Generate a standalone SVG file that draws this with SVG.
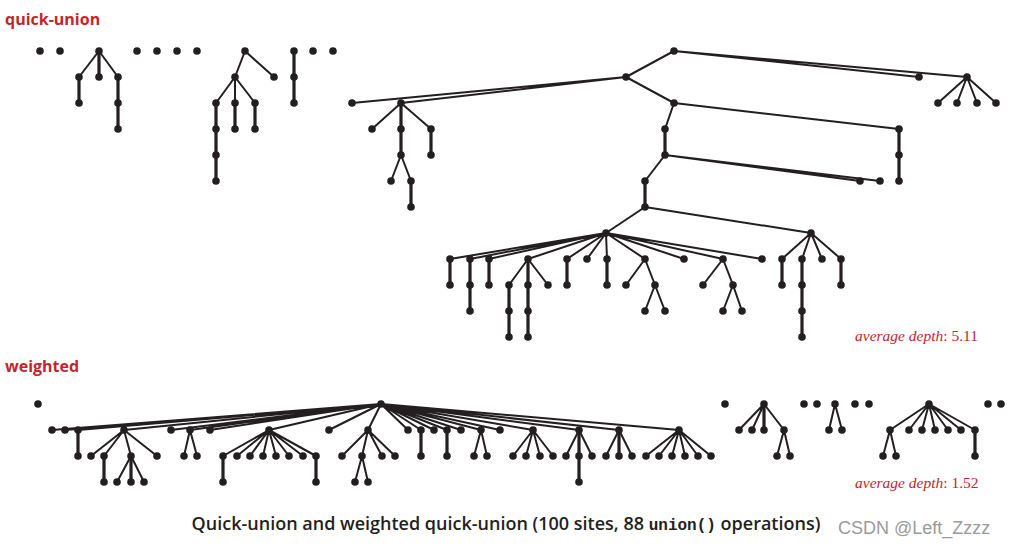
<svg xmlns="http://www.w3.org/2000/svg" width="1014" height="552" viewBox="0 0 1014 552">
<style>
.e{fill:none;stroke:#231f20;stroke-width:2;stroke-linecap:round}
.v{fill:none;stroke:#231f20;stroke-width:3.2}
circle{fill:#231f20;r:3.8}
.h{font-family:"Open Sans","Liberation Sans",sans-serif;font-weight:bold;font-size:16px;fill:#c0272d}
.a{font-family:"Liberation Serif",serif;font-size:15.5px;fill:#c0272d}
.c{font-family:"Open Sans","Liberation Sans",sans-serif;font-weight:600;font-size:18px;fill:#231f20}
</style>
<rect width="1014" height="552" fill="#fff"/>
<text class="h" x="5" y="25">quick-union</text>
<text class="h" x="5" y="372">weighted</text>
<text class="a" x="855" y="341"><tspan font-style="italic">average depth</tspan>: 5.11</text>
<text class="a" x="855" y="488"><tspan font-style="italic">average depth</tspan>: 1.52</text>
<text class="c" x="506" y="530" text-anchor="middle">Quick-union and weighted quick-union (100 sites, 88 <tspan font-family="Liberation Mono,monospace" font-size="16">union()</tspan> operations)</text>
<text x="838" y="534" font-family="Liberation Sans,sans-serif" font-size="18" fill="#9a9a9a">CSDN @Left_Zzzz</text>
<g id="connectors">
<path class="e" d="M99 51L79 77M99 51L99 77M99 51L118 77M79 77L79 103M118 77L118 129
M245 51L235 77M245 51L274 77M235 77L216 103M235 77L235 103M235 77L255 103M216 103L216 181M235 103L235 129M255 103L255 129
M294 51L294 103
M626 77L352 103M626 77L401 103M626 77L674 51M626 77L674 103
M401 103L372 129M401 103L401 155M401 103L431 129M401 155L391 181M401 155L411 181M411 181L411 207M431 129L431 155
M674 51L919 77M674 51L967 77M967 77L938 103M967 77L957 103M967 77L977 103M967 77L996 103
M674 103L665 129M674 103L899 129M899 129L899 181
M665 129L665 155M665 155L645 181M665 155L860 181M665 155L880 181M645 181L645 207M645 207L606 233M645 207L811 233
M606 233L450 259M606 233L470 259M606 233L489 259M606 233L528 259M606 233L567 259M606 233L587 259M606 233L607 259M606 233L645 259M606 233L684 259M606 233L723 259M606 233L762 259
M450 259L450 285M470 259L470 311M489 259L489 285M528 259L509 285M528 259L528 285M528 259L548 285M509 285L509 337M528 285L528 337M567 259L567 285M607 259L607 285
M645 259L626 285M645 259L655 285M655 285L645 311M655 285L665 311M723 259L703 285M723 259L733 285M733 285L723 311M733 285L742 311
M811 233L782 259M811 233L802 259M811 233L822 259M811 233L841 259M782 259L782 285M802 259L802 337M841 259L841 285
M381 404L52 430M381 404L65 430M381 404L78 430M381 404L124 430M381 404L171 430M381 404L190 430M381 404L210 430M381 404L269 430M381 404L329 430M381 404L368 430M381 404L408 430M381 404L421 430M381 404L434 430M381 404L447 430M381 404L461 430M381 404L481 430M381 404L500 430M381 404L533 430M381 404L579 430M381 404L619 430M381 404L679 430
M124 430L91 456M124 430L104 456M124 430L131 456M124 430L157 456M131 456L117 482M131 456L144 482
M190 430L184 456M190 430L197 456
M269 430L223 456M269 430L237 456M269 430L250 456M269 430L263 456M269 430L276 456M269 430L289 456M269 430L303 456M269 430L316 456
M368 430L342 456M368 430L362 456M368 430L382 456M368 430L395 456M362 456L355 482M362 456L368 482
M481 430L474 456M481 430L487 456
M533 430L513 456M533 430L526 456M533 430L540 456M533 430L553 456
M579 430L566 456M579 430L592 456M619 430L606 456M619 430L632 456
M679 430L646 456M679 430L659 456M679 430L672 456M679 430L685 456M679 430L698 456M679 430L711 456
M764 404L739 430M764 404L752 430M764 404L784 430M784 430L777 456M784 430L790 456
M835 404L829 430M835 404L842 430
M929 404L890 430M929 404L909 430M929 404L922 430M929 404L935 430M929 404L948 430M929 404L961 430M929 404L975 430M890 430L883 456M890 430L896 456"/>
<path class="v" d="M99 51V77M79 77V103M118 77V129M235 103V129M255 103V129M216 103V181M294 51V103M401 103V155M411 181V207M431 129V155M899 129V181M665 129V155M645 181V207M450 259V285M470 259V311M489 259V285M528 259V337M509 285V337M567 259V285M607 259V285M782 259V285M802 259V337M841 259V285M78 430V456M104 456V482M131 456V482M223 456V482M316 456V482M421 430V456M447 430V456M579 430V482M619 430V456M764 404V430M975 430V456"/>
</g>
<g id="nodes">
<circle cx="40" cy="51"/><circle cx="60" cy="51"/><circle cx="137" cy="51"/><circle cx="157" cy="51"/><circle cx="177" cy="51"/><circle cx="197" cy="51"/><circle cx="313" cy="51"/><circle cx="333" cy="51"/>
<circle cx="99" cy="51"/><circle cx="79" cy="77"/><circle cx="99" cy="77"/><circle cx="118" cy="77"/><circle cx="79" cy="103"/><circle cx="118" cy="103"/><circle cx="118" cy="129"/>
<circle cx="245" cy="51"/><circle cx="235" cy="77"/><circle cx="274" cy="77"/><circle cx="216" cy="103"/><circle cx="235" cy="103"/><circle cx="255" cy="103"/><circle cx="216" cy="129"/><circle cx="216" cy="155"/><circle cx="216" cy="181"/><circle cx="235" cy="129"/><circle cx="255" cy="129"/>
<circle cx="294" cy="51"/><circle cx="294" cy="77"/><circle cx="294" cy="103"/>
<circle cx="626" cy="77"/><circle cx="352" cy="103"/><circle cx="401" cy="103"/><circle cx="674" cy="51"/><circle cx="674" cy="103"/>
<circle cx="372" cy="129"/><circle cx="401" cy="129"/><circle cx="431" cy="129"/><circle cx="401" cy="155"/><circle cx="431" cy="155"/><circle cx="391" cy="181"/><circle cx="411" cy="181"/><circle cx="411" cy="207"/>
<circle cx="919" cy="77"/><circle cx="967" cy="77"/><circle cx="938" cy="103"/><circle cx="957" cy="103"/><circle cx="977" cy="103"/><circle cx="996" cy="103"/>
<circle cx="665" cy="129"/><circle cx="899" cy="129"/><circle cx="899" cy="155"/><circle cx="899" cy="181"/><circle cx="665" cy="155"/><circle cx="645" cy="181"/><circle cx="860" cy="181"/><circle cx="880" cy="181"/><circle cx="645" cy="207"/><circle cx="606" cy="233"/><circle cx="811" cy="233"/>
<circle cx="450" cy="259"/><circle cx="470" cy="259"/><circle cx="489" cy="259"/><circle cx="528" cy="259"/><circle cx="567" cy="259"/><circle cx="587" cy="259"/><circle cx="607" cy="259"/><circle cx="645" cy="259"/><circle cx="684" cy="259"/><circle cx="723" cy="259"/><circle cx="762" cy="259"/>
<circle cx="450" cy="285"/><circle cx="470" cy="285"/><circle cx="470" cy="311"/><circle cx="489" cy="285"/><circle cx="509" cy="285"/><circle cx="528" cy="285"/><circle cx="548" cy="285"/><circle cx="509" cy="311"/><circle cx="509" cy="337"/><circle cx="528" cy="311"/><circle cx="528" cy="337"/><circle cx="567" cy="285"/><circle cx="607" cy="285"/>
<circle cx="626" cy="285"/><circle cx="655" cy="285"/><circle cx="645" cy="311"/><circle cx="665" cy="311"/><circle cx="703" cy="285"/><circle cx="733" cy="285"/><circle cx="723" cy="311"/><circle cx="742" cy="311"/>
<circle cx="782" cy="259"/><circle cx="802" cy="259"/><circle cx="822" cy="259"/><circle cx="841" cy="259"/><circle cx="782" cy="285"/><circle cx="802" cy="285"/><circle cx="802" cy="311"/><circle cx="802" cy="337"/><circle cx="841" cy="285"/>
<circle cx="38" cy="404"/><circle cx="381" cy="404"/>
<circle cx="52" cy="430"/><circle cx="65" cy="430"/><circle cx="78" cy="430"/><circle cx="124" cy="430"/><circle cx="171" cy="430"/><circle cx="190" cy="430"/><circle cx="210" cy="430"/><circle cx="269" cy="430"/><circle cx="329" cy="430"/><circle cx="368" cy="430"/><circle cx="408" cy="430"/><circle cx="421" cy="430"/><circle cx="434" cy="430"/><circle cx="447" cy="430"/><circle cx="461" cy="430"/><circle cx="481" cy="430"/><circle cx="500" cy="430"/><circle cx="533" cy="430"/><circle cx="579" cy="430"/><circle cx="619" cy="430"/><circle cx="679" cy="430"/>
<circle cx="78" cy="456"/><circle cx="91" cy="456"/><circle cx="104" cy="456"/><circle cx="131" cy="456"/><circle cx="157" cy="456"/><circle cx="104" cy="482"/><circle cx="117" cy="482"/><circle cx="131" cy="482"/><circle cx="144" cy="482"/>
<circle cx="184" cy="456"/><circle cx="197" cy="456"/>
<circle cx="223" cy="456"/><circle cx="237" cy="456"/><circle cx="250" cy="456"/><circle cx="263" cy="456"/><circle cx="276" cy="456"/><circle cx="289" cy="456"/><circle cx="303" cy="456"/><circle cx="316" cy="456"/><circle cx="223" cy="482"/><circle cx="316" cy="482"/>
<circle cx="342" cy="456"/><circle cx="362" cy="456"/><circle cx="382" cy="456"/><circle cx="395" cy="456"/><circle cx="355" cy="482"/><circle cx="368" cy="482"/>
<circle cx="421" cy="456"/><circle cx="447" cy="456"/><circle cx="474" cy="456"/><circle cx="487" cy="456"/>
<circle cx="513" cy="456"/><circle cx="526" cy="456"/><circle cx="540" cy="456"/><circle cx="553" cy="456"/>
<circle cx="566" cy="456"/><circle cx="579" cy="456"/><circle cx="592" cy="456"/><circle cx="579" cy="482"/><circle cx="606" cy="456"/><circle cx="619" cy="456"/><circle cx="632" cy="456"/>
<circle cx="646" cy="456"/><circle cx="659" cy="456"/><circle cx="672" cy="456"/><circle cx="685" cy="456"/><circle cx="698" cy="456"/><circle cx="711" cy="456"/>
<circle cx="725" cy="404"/><circle cx="804" cy="404"/><circle cx="817" cy="404"/><circle cx="855" cy="404"/><circle cx="869" cy="404"/><circle cx="988" cy="404"/><circle cx="1001" cy="404"/>
<circle cx="764" cy="404"/><circle cx="739" cy="430"/><circle cx="752" cy="430"/><circle cx="764" cy="430"/><circle cx="784" cy="430"/><circle cx="777" cy="456"/><circle cx="790" cy="456"/>
<circle cx="835" cy="404"/><circle cx="829" cy="430"/><circle cx="842" cy="430"/>
<circle cx="929" cy="404"/><circle cx="890" cy="430"/><circle cx="909" cy="430"/><circle cx="922" cy="430"/><circle cx="935" cy="430"/><circle cx="948" cy="430"/><circle cx="961" cy="430"/><circle cx="975" cy="430"/><circle cx="883" cy="456"/><circle cx="896" cy="456"/><circle cx="975" cy="456"/>
</g>
</svg>
